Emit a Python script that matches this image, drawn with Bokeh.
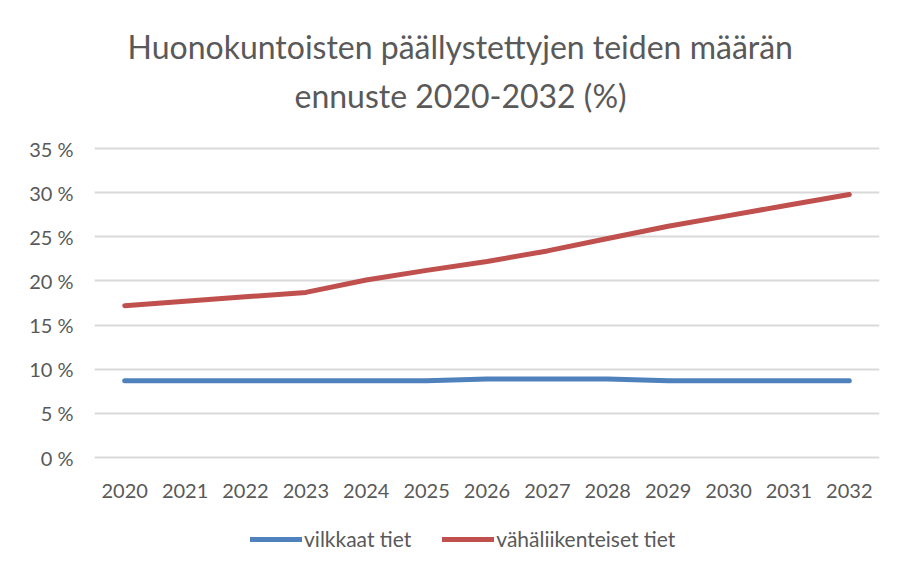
from bokeh.plotting import figure
from bokeh.models import Legend, LegendItem, Title, FactorRange, Range1d, FixedTicker
from bokeh.embed import file_html
from bokeh.resources import INLINE

# ---- data ----
years = ["2020", "2021", "2022", "2023", "2024", "2025", "2026",
         "2027", "2028", "2029", "2030", "2031", "2032"]
vilkkaat_tiet = [8.7, 8.7, 8.7, 8.7, 8.7, 8.7, 8.9, 8.9, 8.9, 8.7, 8.7, 8.7, 8.7]
vahaliikenteiset_tiet = [17.2, 17.7, 18.2, 18.7, 20.1, 21.2, 22.2, 23.4, 24.8, 26.2, 27.4, 28.6, 29.8]
y_ticks = [0, 5, 10, 15, 20, 25, 30, 35]
y_tick_labels = ["0 %", "5 %", "10 %", "15 %", "20 %", "25 %", "30 %", "35 %"]
series_names = ["vilkkaat tiet", "vähäliikenteiset tiet"]
title_lines = ["Huonokuntoisten päällystettyjen teiden määrän", "ennuste 2020-2032 (%)"]

FONT = "Lato"
TXT = "#595959"

# frame reaches down to hold the category labels and the legend
p = figure(x_range=FactorRange(factors=years), y_range=Range1d(-12.8, 38.4),
           frame_width=785, frame_height=452,
           min_border_left=94, min_border_right=8, min_border_top=118, min_border_bottom=0,
           output_backend="svg", toolbar_location=None)
p.title = None
p.outline_line_color = None
p.background_fill_color = "white"
p.border_fill_color = "white"

r1 = p.line(years, vilkkaat_tiet, line_width=5, line_color="#4F81BD", line_cap="round", line_join="round")
r2 = p.line(years, vahaliikenteiset_tiet, line_width=5, line_color="#C0504D", line_cap="round", line_join="round")

# category labels under the plot area
p.xaxis.visible = False
p.text(x=years, y=-3.75, text=years, text_align="center", text_baseline="middle",
       text_font={"value": FONT}, text_font_size="20px", text_color=TXT)

# y axis / grid
p.xgrid.grid_line_color = None
p.ygrid.grid_line_color = "#D9D9D9"
p.ygrid.grid_line_width = 2
p.yaxis.ticker = FixedTicker(ticks=y_ticks)
p.yaxis.major_label_overrides = {t: l for t, l in zip(y_ticks, y_tick_labels)}
ax = p.yaxis[0]
ax.axis_line_color = None
ax.major_tick_line_color = None
ax.minor_tick_line_color = None
ax.major_tick_out = 0
ax.major_tick_in = 0
ax.major_label_text_font = FONT
ax.major_label_text_color = TXT
ax.major_label_text_font_size = "20px"
ax.major_label_standoff = 21

# title (second line nearest the plot)
p.add_layout(Title(text=title_lines[1], align="left", offset=200, standoff=8,
                   text_font=FONT, text_font_size="32px", text_color=TXT,
                   text_font_style="normal"), "above")
p.add_layout(Title(text=title_lines[0], align="left", offset=33, standoff=8,
                   text_font=FONT, text_font_size="32px", text_color=TXT,
                   text_font_style="normal"), "above")

legend = Legend(items=[LegendItem(label=series_names[0], renderers=[r1]),
                       LegendItem(label=series_names[1], renderers=[r2])],
                orientation="horizontal", location=(156, 19),
                glyph_width=52, glyph_height=20, label_height=20, label_standoff=2, spacing=31,
                padding=0, margin=0, border_line_alpha=0, background_fill_alpha=0,
                label_text_font=FONT, label_text_color=TXT, label_text_font_size="21px")
p.add_layout(legend)

open("out.html", "w").write(file_html(p, INLINE))
